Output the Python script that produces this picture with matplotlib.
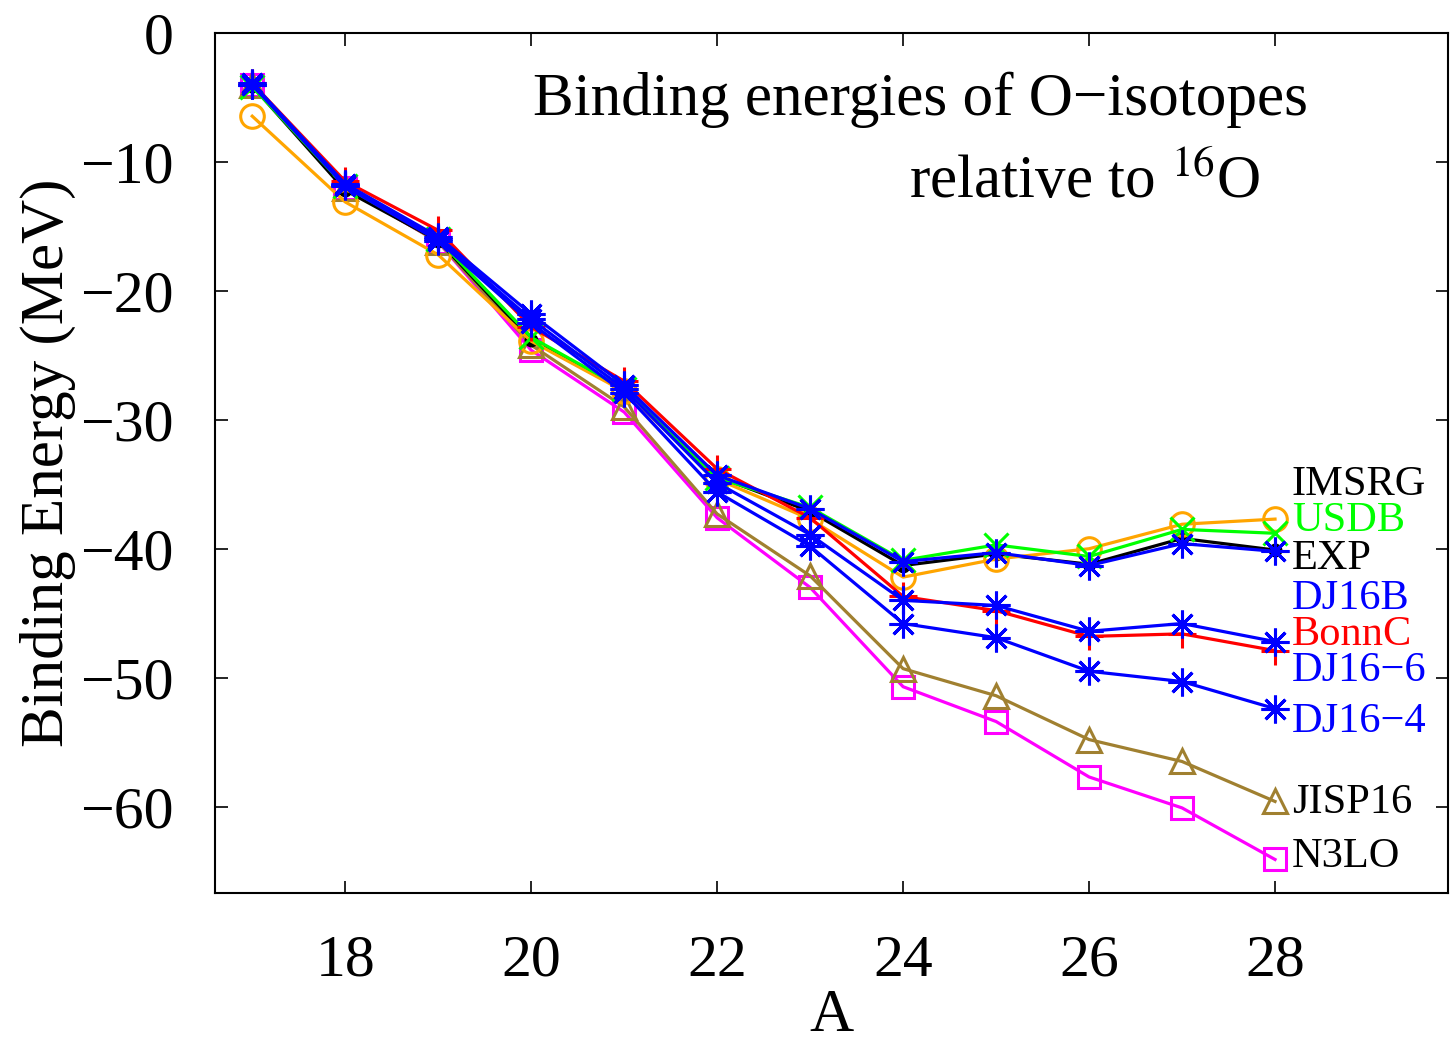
import matplotlib
matplotlib.use("Agg")
import matplotlib.pyplot as plt

plt.rcParams['font.family'] = ['Liberation Serif', 'DejaVu Serif']
plt.rcParams['mathtext.fontset'] = 'stix'

A = [17, 18, 19, 20, 21, 22, 23, 24, 25, 26, 27, 28]

exp_vals   = [-4.1, -12.2, -16.1, -23.8, -27.6, -34.4, -37.1, -41.3, -40.4, -41.2, -39.2, -40.1]
usdb_vals  = [-4.15, -11.9, -16.0, -23.6, -27.6, -34.5, -36.8, -40.9, -39.7, -40.6, -38.5, -38.8]
imsrg_vals = [-6.45, -13.1, -17.2, -23.9, -27.8, -34.6, -37.7, -42.2, -40.8, -40.0, -38.1, -37.7]
dj16b_vals = [-3.9, -11.7, -15.8, -21.8, -27.3, -34.3, -36.9, -41.0, -40.3, -41.3, -39.6, -40.2]
bonnc_vals = [-3.9, -11.5, -15.3, -22.8, -27.0, -33.8, -37.6, -43.7, -44.8, -46.8, -46.6, -47.9]
dj166_vals = [-4.0, -11.8, -16.0, -22.2, -27.6, -34.9, -38.9, -44.0, -44.4, -46.4, -45.8, -47.2]
dj164_vals = [-4.0, -11.9, -16.1, -22.5, -27.9, -35.6, -39.8, -45.8, -46.9, -49.5, -50.3, -52.4]
jisp_vals  = [-4.0, -12.0, -16.2, -24.2, -29.0, -37.3, -42.1, -49.3, -51.4, -54.8, -56.5, -59.6]
n3lo_vals  = [-4.0, -12.0, -16.2, -24.6, -29.4, -37.6, -43.0, -50.7, -53.4, -57.7, -60.1, -64.1]

label_names = ["IMSRG", "USDB", "EXP", "DJ16B", "BonnC", "DJ16\u22126", "DJ16\u22124", "JISP16", "N3LO"]
label_y = [-35.0, -37.8, -40.8, -43.9, -46.7, -49.5, -53.4, -59.7, -63.9]
label_colors = ["black", "#00ff00", "black", "blue", "red", "blue", "blue", "black", "black"]

xticks = [18, 20, 22, 24, 26, 28]
yticks = [0, -10, -20, -30, -40, -50, -60]

fig = plt.figure(figsize=(14.5, 10.48), dpi=100)
ax = fig.add_axes([0.1483, 0.1479, 0.8503, 0.8206])

lw = 2.3
star = (8, 2, 0)
ax.plot(A, n3lo_vals, color='#ff00ff', lw=lw, marker='s', ms=16, mfc='none', mew=2.2)
ax.plot(A, jisp_vals, color='#a08030', lw=lw, marker='^', ms=17, mfc='none', mew=2.2)
ax.plot(A, exp_vals, color='black', lw=lw, marker='o', ms=9)
ax.plot(A, imsrg_vals, color='#ffa500', lw=lw, marker='o', ms=17, mfc='none', mew=2.2)
ax.plot(A, usdb_vals, color='#00ff00', lw=lw, marker='x', ms=17, mew=2.2)
ax.plot(A, bonnc_vals, color='red', lw=lw, marker='+', ms=20, mew=2.2)
ax.plot(A, dj164_vals, color='blue', lw=lw, marker=star, ms=20, mew=2.2)
ax.plot(A, dj166_vals, color='blue', lw=lw, marker=star, ms=20, mew=2.2)
ax.plot(A, dj16b_vals, color='blue', lw=lw, marker=star, ms=20, mew=2.2)

for name, y, c in zip(label_names, label_y, label_colors):
    ax.text(28.18, y, name, color=c, fontsize=30.5, ha='left', va='center')

ax.text(0.572, 0.922, "Binding energies of O\u2212isotopes", transform=ax.transAxes,
        fontsize=44, ha='center', va='center')
ax.text(0.8475, 0.826, r"relative to $^{16}$O", transform=ax.transAxes,
        fontsize=44, ha='right', va='center')

ax.set_xlim(16.6, 29.86)
ax.set_ylim(-66.7, 0)
ax.set_xticks(xticks)
ax.set_yticks(yticks)
ax.tick_params(direction='in', top=True, right=True, length=9, width=1.2, labelsize=43)
ax.tick_params(axis='x', pad=30)
ax.tick_params(axis='y', pad=30)
for s in ax.spines.values():
    s.set_linewidth(1.5)

ax.set_xlabel("A", fontsize=44, labelpad=0)
ax.set_ylabel("Binding Energy (MeV)", fontsize=44, labelpad=3)

fig.savefig("out.png", dpi=100)
